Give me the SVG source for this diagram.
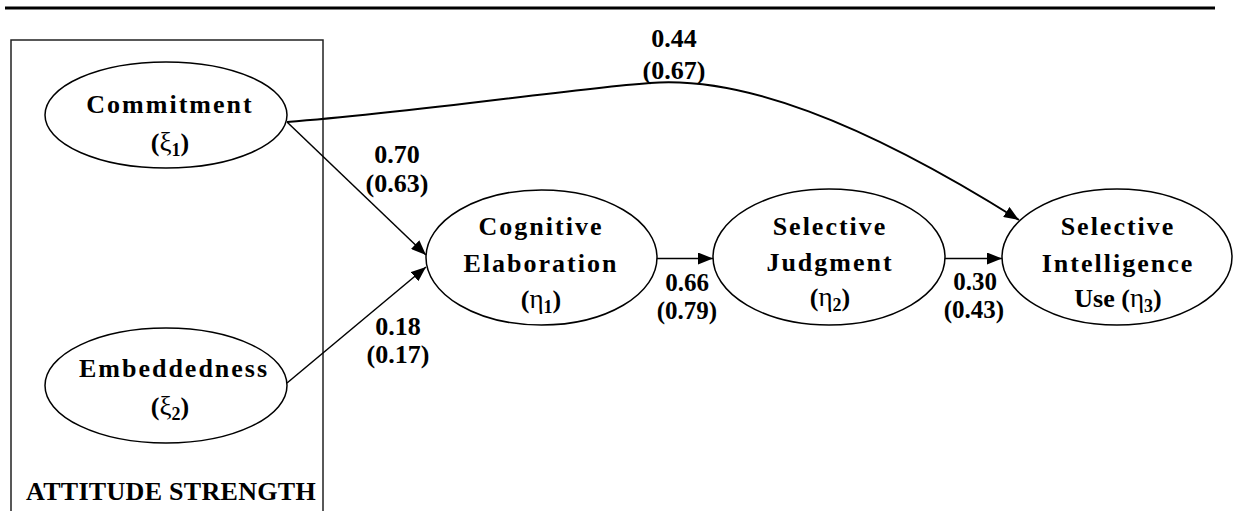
<svg xmlns="http://www.w3.org/2000/svg" width="1233" height="511" viewBox="0 0 1233 511">
<defs>
<style>
.t{font-family:"Liberation Serif","Times New Roman",serif;font-weight:bold;font-size:26px;fill:#000}
.v{font-size:25px}
.n{letter-spacing:2px}
.g{font-weight:normal;font-size:27px}
.s{font-size:18px}
.e{fill:#fff;stroke:#000;stroke-width:1.5}
.c{fill:none;stroke:#000;stroke-width:1.5}
</style>
<marker id="ah" markerUnits="userSpaceOnUse" markerWidth="16" markerHeight="12" refX="15" refY="6" orient="auto">
<path d="M0,0 L15,6 L0,12 z" fill="#000"/>
</marker>
</defs>
<line x1="5" y1="8" x2="1215" y2="8" stroke="#000" stroke-width="3"/>
<g id="attitude-strength">
<rect x="11" y="40" width="312" height="480" fill="none" stroke="#222" stroke-width="1.5"/>
<text class="t" x="171" y="500" text-anchor="middle" letter-spacing="0.3">ATTITUDE STRENGTH</text>
</g>
<g id="connectors">
<line class="c" x1="287" y1="122" x2="426" y2="255" marker-end="url(#ah)"/>
<line class="c" x1="287" y1="383" x2="426" y2="267" marker-end="url(#ah)"/>
<line class="c" x1="657" y1="258.5" x2="713" y2="258.5" marker-end="url(#ah)"/>
<line class="c" x1="945" y1="258.5" x2="1002" y2="258.5" marker-end="url(#ah)"/>
<path class="c" style="stroke-width:2" d="M287,122 C420,112 560,90 650,83 C740,76 860,120 1019,220" marker-end="url(#ah)"/>
<text class="t" text-anchor="middle"><tspan x="397" y="163">0.70</tspan><tspan x="397" y="192">(0.63)</tspan></text>
<text class="t" text-anchor="middle"><tspan x="398" y="335">0.18</tspan><tspan x="398" y="363">(0.17)</tspan></text>
<text class="t v" text-anchor="middle"><tspan x="687" y="291">0.66</tspan><tspan x="687" y="319">(0.79)</tspan></text>
<text class="t v" text-anchor="middle"><tspan x="975" y="290">0.30</tspan><tspan x="974" y="318">(0.43)</tspan></text>
<text class="t" text-anchor="middle"><tspan x="674" y="47">0.44</tspan><tspan x="674" y="79">(0.67)</tspan></text>
</g>
<g id="commitment">
<ellipse class="e" cx="166" cy="115" rx="121" ry="53"/>
<text class="t n" x="170" y="113" text-anchor="middle">Commitment</text>
<text class="t" x="170" y="151" text-anchor="middle">(<tspan class="g">ξ</tspan><tspan class="s" dy="5">1</tspan><tspan dy="-5">)</tspan></text>
</g>
<g id="embeddedness">
<ellipse class="e" cx="166" cy="385.5" rx="121" ry="57.5"/>
<text class="t n" x="174" y="377" text-anchor="middle">Embeddedness</text>
<text class="t" x="170" y="415" text-anchor="middle">(<tspan class="g">ξ</tspan><tspan class="s" dy="5">2</tspan><tspan dy="-5">)</tspan></text>
</g>
<g id="cognitive-elaboration">
<ellipse class="e" cx="541.5" cy="257.5" rx="115.5" ry="67.5"/>
<text class="t n" x="541" y="235" text-anchor="middle">Cognitive</text>
<text class="t n" x="541" y="272" text-anchor="middle">Elaboration</text>
<text class="t" x="541" y="308" text-anchor="middle">(<tspan class="g">η</tspan><tspan class="s" dy="5">1</tspan><tspan dy="-5">)</tspan></text>
</g>
<g id="selective-judgment">
<ellipse class="e" cx="829" cy="257" rx="116" ry="68"/>
<text class="t n" x="830" y="235" text-anchor="middle">Selective</text>
<text class="t n" x="830" y="271" text-anchor="middle">Judgment</text>
<text class="t" x="830" y="306" text-anchor="middle">(<tspan class="g">η</tspan><tspan class="s" dy="5">2</tspan><tspan dy="-5">)</tspan></text>
</g>
<g id="selective-intelligence-use">
<ellipse class="e" cx="1117" cy="257" rx="115" ry="68"/>
<text class="t n" x="1118" y="235" text-anchor="middle">Selective</text>
<text class="t n" x="1118" y="272" text-anchor="middle">Intelligence</text>
<text class="t" x="1118" y="307" text-anchor="middle">Use (<tspan class="g">η</tspan><tspan class="s" dy="5">3</tspan><tspan dy="-5">)</tspan></text>
</g>
</svg>
